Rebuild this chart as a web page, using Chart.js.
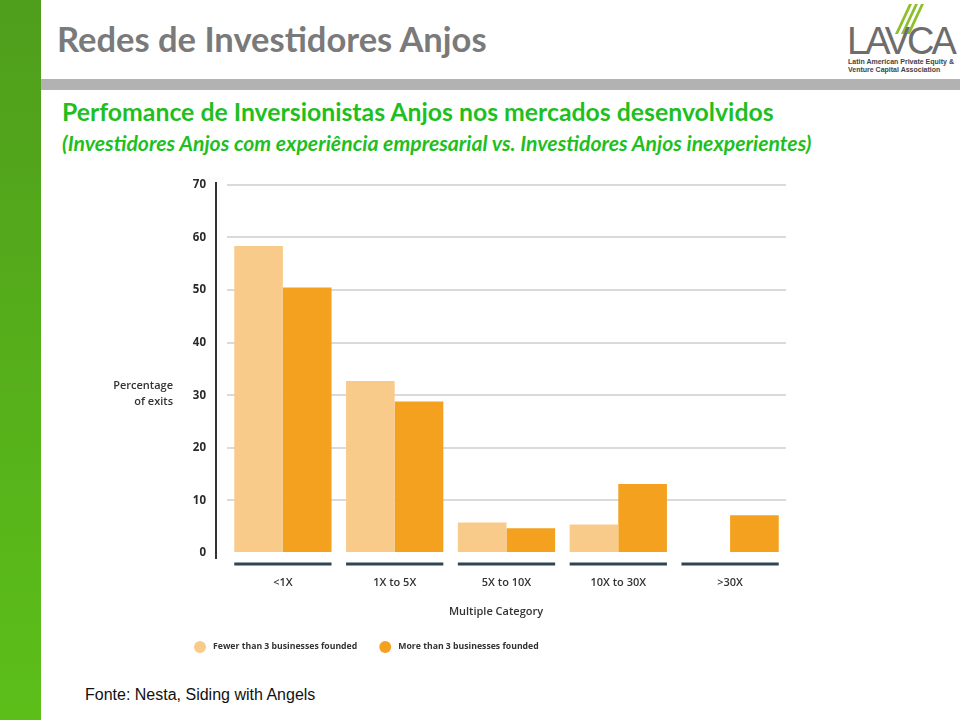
<!DOCTYPE html>
<html>
<head>
<meta charset="utf-8">
<script src="https://cdn.jsdelivr.net/npm/chart.js@4/dist/chart.umd.min.js"></script>
<style>
  html, body { margin: 0; padding: 0; }
  body { width: 960px; height: 720px; position: relative; overflow: hidden; background: #fff; font-family: Lato, "Open Sans", sans-serif; }
  #sidebar { position: absolute; left: 0; top: 0; width: 41px; height: 720px; background: linear-gradient(#4f9e1c, #5cbf19); }
  #title { position: absolute; left: 57px; top: 18px; font-size: 34.5px; font-weight: bold; color: #7a7a7a; }
  #band { position: absolute; left: 41px; top: 79px; width: 919px; height: 11px; background: #b2b2b2; }
  #sub1 { position: absolute; left: 62px; top: 97px; font-size: 24.8px; font-weight: bold; color: #1fbf1f; }
  #sub2 { position: absolute; left: 62px; top: 130px; font-size: 21.2px; font-weight: bold; font-style: italic; color: #1fbf1f; }
  #source { position: absolute; left: 85px; top: 686px; font-family: "Liberation Sans", Arial, sans-serif; font-size: 16px; color: #111; }
  #logo { position: absolute; left: 846px; top: 2px; width: 112px; height: 72px; }
  #logo .word { position: absolute; left: 1px; top: 18px; font-family: "Liberation Sans", sans-serif; font-size: 38px; letter-spacing: -3px; color: #6d6d6d; }
  #logo .tag { position: absolute; left: 2px; top: 56px; font-family: "Liberation Sans Narrow", "Liberation Sans", sans-serif; font-size: 7px; line-height: 8px; color: #444; font-weight: bold; white-space: nowrap; }
  #logo .slash { position: absolute; top: 2px; width: 3px; height: 30px; background: #8cbf2a; transform: skewX(-25deg); }
  #wrap { position: absolute; left: 100px; top: 157px; width: 700px; height: 513px; }
</style>
</head>
<body>
<div id="sidebar"></div>
<div id="title">Redes de Investidores Anjos</div>
<div id="logo">
  <div class="slash" style="left:56px"></div>
  <div class="slash" style="left:62px"></div>
  <div class="slash" style="left:68px"></div>
  <div class="word">LAVCA</div>
  <div class="tag">Latin American Private Equity &amp;<br>Venture Capital Association</div>
</div>
<div id="band"></div>
<div id="sub1">Perfomance de Inversionistas Anjos nos mercados desenvolvidos</div>
<div id="sub2">(Investidores Anjos com experiência empresarial vs. Investidores Anjos inexperientes)</div>
<div id="wrap"><canvas id="chart" width="700" height="513"></canvas></div>
<div id="source">Fonte: Nesta, Siding with Angels</div>

<script>
const categories = ['<1X', '1X to 5X', '5X to 10X', '10X to 30X', '>30X'];
const fewerThan3 = [58.4, 32.7, 5.8, 5.4, 0];
const moreThan3 = [50.5, 28.8, 4.7, 13.1, 7.2];
const yTicks = [0, 10, 20, 30, 40, 50, 60, 70];
const seriesNames = ['Fewer than 3 businesses founded', 'More than 3 businesses founded'];
const colors = ['#f8cb8b', '#f4a11f'];

const FONT = '"Open Sans", Lato, sans-serif';

const extras = {
  id: 'extras',
  afterDraw(chart) {
    const ctx = chart.ctx;
    const area = chart.chartArea;
    ctx.save();

    // vertical axis line, offset left of the plot
    ctx.strokeStyle = '#333';
    ctx.lineWidth = 2;
    ctx.beginPath();
    ctx.moveTo(area.left - 11, area.top - 3);
    ctx.lineTo(area.left - 11, area.bottom + 6);
    ctx.stroke();

    // dark underline below each category group
    const m0 = chart.getDatasetMeta(0), m1 = chart.getDatasetMeta(1);
    ctx.strokeStyle = '#2f4552';
    ctx.lineWidth = 3;
    categories.forEach((c, i) => {
      const a = m0.data[i], b = m1.data[i];
      ctx.beginPath();
      ctx.moveTo(a.x - a.width / 2, area.bottom + 11);
      ctx.lineTo(b.x + b.width / 2, area.bottom + 11);
      ctx.stroke();
    });

    // y axis title
    ctx.fillStyle = '#333';
    ctx.font = '600 11px ' + FONT;
    ctx.textAlign = 'right';
    ctx.textBaseline = 'middle';
    ctx.fillText('Percentage', area.left - 54, area.top + 201);
    ctx.fillText('of exits', area.left - 54, area.top + 217);

    // x axis title
    ctx.textAlign = 'center';
    ctx.font = '600 11px ' + FONT;
    ctx.fillText('Multiple Category', area.left + 269, area.bottom + 59);

    // legend
    let x = area.left - 27;
    const ly = area.bottom + 94;
    ctx.font = 'bold 8.7px ' + FONT;
    ctx.textAlign = 'left';
    seriesNames.forEach((name, i) => {
      ctx.fillStyle = colors[i];
      ctx.beginPath();
      ctx.arc(x, ly, 6, 0, Math.PI * 2);
      ctx.fill();
      ctx.fillStyle = '#333';
      ctx.fillText(name, x + 13, ly);
      x += ctx.measureText(name).width + 41;
    });
    ctx.restore();
  }
};

new Chart(document.getElementById('chart'), {
  type: 'bar',
  data: {
    labels: categories,
    datasets: [
      { label: seriesNames[0], data: fewerThan3, backgroundColor: colors[0] },
      { label: seriesNames[1], data: moreThan3, backgroundColor: colors[1] }
    ]
  },
  options: {
    responsive: false,
    animation: false,
    layout: { padding: { top: 1, right: 14, left: 0, bottom: 0 } },
    categoryPercentage: 0.87,
    barPercentage: 1,
    scales: {
      x: {
        grid: { display: false },
        border: { display: false },
        ticks: { color: '#333', font: { family: FONT, size: 11, weight: '600' }, padding: 15 },
        afterFit(scale) { scale.height = 117; }
      },
      y: {
        min: 0,
        max: 70,
        afterBuildTicks(scale) { scale.ticks = yTicks.map(v => ({ value: v })); },
        grid: {
          color: ctx => ctx.tick && ctx.tick.value === 0 ? 'rgba(0,0,0,0)' : '#dadada',
          lineWidth: 2,
          drawTicks: false
        },
        border: { display: false },
        ticks: { color: '#2a2a2a', font: { family: FONT, size: 11.5, weight: 'bold' }, padding: 21 },
        afterFit(scale) { scale.width = 127; }
      }
    },
    plugins: {
      legend: { display: false },
      tooltip: { enabled: false }
    }
  },
  plugins: [extras]
});
</script>
</body>
</html>
